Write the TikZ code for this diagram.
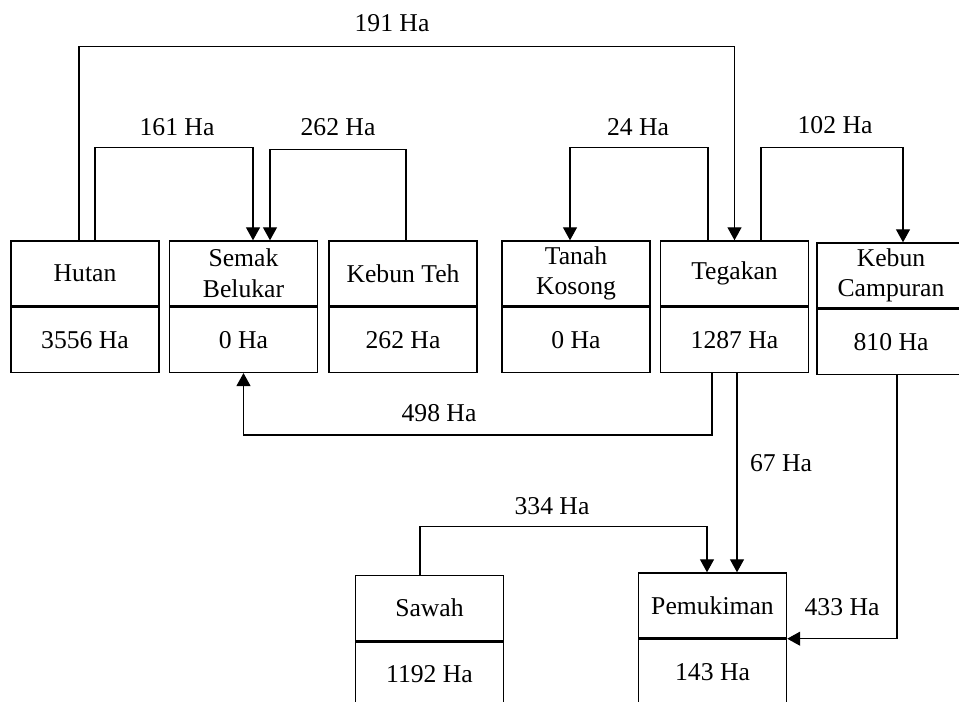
\documentclass[tikz,border=0pt]{standalone}
\usepackage{fontspec}
\setmainfont{Liberation Serif}
\usetikzlibrary{arrows.meta,positioning}

\begin{document}
\begin{tikzpicture}[
  x=0.02cm, y=-0.02cm,
  font=\fontsize{14.6}{17.4}\selectfont,
  namebox/.style={draw, line width=0.8pt, minimum width=2.96cm, minimum height=1.3cm, inner sep=0pt, align=center},
  valbox/.style={namebox},
  flow/.style={line width=0.7pt, -{Triangle[length=0.26cm, width=0.28cm]}},
  lbl/.style={inner sep=0pt}
]
\useasboundingbox (0,0) rectangle (959,702);
\clip (0,0) rectangle (959,702);
% upper row of land cover
\node[namebox] (hutan) at (85,273.5) {Hutan};
\node[valbox, below=0pt of hutan] (hutanv) {3556 Ha};
\node[namebox] (semak) at (243.5,273.5) {Semak\\Belukar};
\node[valbox, below=0pt of semak] (semakv) {0 Ha};
\node[namebox] (teh) at (403,273.5) {Kebun Teh};
\node[valbox, below=0pt of teh] (tehv) {262 Ha};
\node[namebox] (tanah) at (576,273.5) {Tanah\\Kosong};
\node[valbox, below=0pt of tanah] (tanahv) {0 Ha};
\node[namebox] (tegakan) at (734.5,273.5) {Tegakan};
\node[valbox, below=0pt of tegakan] (tegakanv) {1287 Ha};
\node[namebox] (campur) at (891,275.5) {Kebun\\Campuran};
\node[valbox, below=0pt of campur] (campurv) {810 Ha};
% lower row
\node[namebox] (sawah) at (429.5,608) {Sawah};
\node[valbox, below=0pt of sawah] (sawahv) {1192 Ha};
\node[namebox] (pemukiman) at (712.5,605.5) {Pemukiman};
\node[valbox, below=0pt of pemukiman] (pemukimanv) {143 Ha};
% changes
\draw[flow] ([xshift=-0.12cm]hutan.north) -- ++(0,-194) -| (tegakan.north);
\draw[flow] ([xshift=0.2cm]hutan.north) -- ++(0,-93) -| ([xshift=0.19cm]semak.north);
\draw[flow] ([xshift=0.06cm]teh.north) -- ++(0,-91) -| ([xshift=0.53cm]semak.north);
\draw[flow] ([xshift=-0.53cm]tegakan.north) -- ++(0,-93) -| ([xshift=-0.12cm]tanah.north);
\draw[flow] ([xshift=0.53cm]tegakan.north) -- ++(0,-93) -| ([xshift=0.24cm]campur.north);
\draw[flow] ([xshift=-0.45cm]tegakanv.south) -- ++(0,62) -| (semakv.south);
\draw[flow] ([xshift=0.05cm]tegakanv.south) -- ([xshift=0.05cm]tegakanv.south |- pemukiman.north);
\draw[flow] ([xshift=-0.19cm]sawah.north) -- ++(0,-48) -| ([xshift=-0.11cm]pemukiman.north);
\draw[flow] ([xshift=0.12cm]campurv.south) |- (pemukiman.south east);
% labels
\node[lbl] (l191) at (392,23) {191 Ha};
\node[lbl] (l161) at (177,127) {161 Ha};
\node[lbl] (l262) at (338,127) {262 Ha};
\node[lbl] (l24) at (638,127) {24 Ha};
\node[lbl] (l102) at (835,125) {102 Ha};
\node[lbl] (l498) at (439,413) {498 Ha};
\node[lbl] (l67) at (781,463) {67 Ha};
\node[lbl] (l334) at (552,506) {334 Ha};
\node[lbl] (l433) at (842,607) {433 Ha};
\end{tikzpicture}
\end{document}
